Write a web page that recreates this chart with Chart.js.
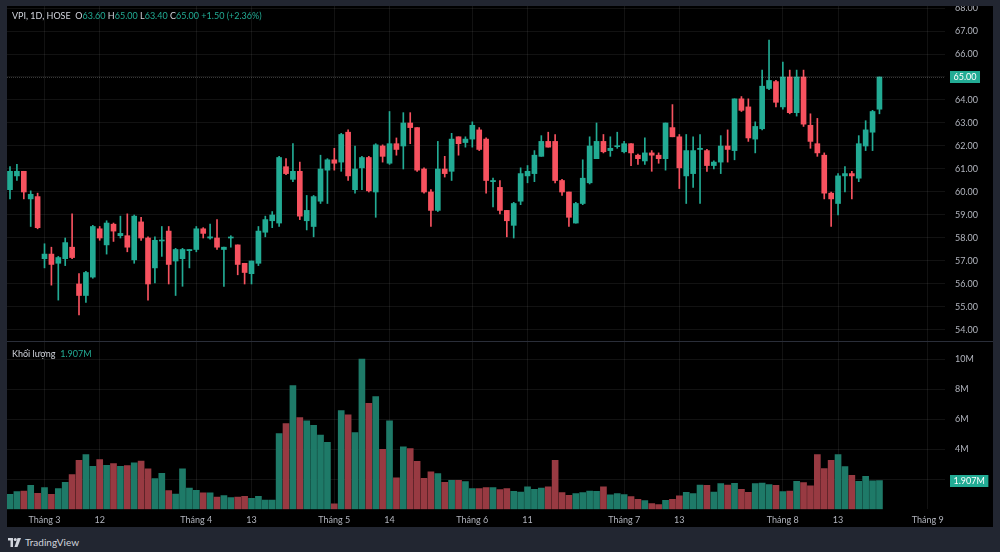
<!DOCTYPE html>
<html><head><meta charset="utf-8">
<script src="https://cdn.jsdelivr.net/npm/chart.js@4.4.1/dist/chart.umd.min.js"></script>
<style>
html,body{margin:0;padding:0;background:#222631;width:1000px;height:552px;overflow:hidden;font-family:Lato,'Open Sans',sans-serif;}
#panel{position:absolute;left:7px;top:6px;width:986px;height:521px;background:#000;}
#priceWrap{position:absolute;left:7px;top:6px;width:986px;height:336px;}
#volWrap{position:absolute;left:7px;top:342px;width:986px;height:185px;}
#sep{position:absolute;left:7px;top:341px;width:986px;height:1px;background:#2a2e39;}
.legend{position:absolute;font-size:9px;line-height:11px;color:#d1d4dc;white-space:pre;}
.g{color:#22ab94}
#footer{position:absolute;left:8px;top:535px;height:14px;display:flex;align-items:center;color:#d1d4dc;font-size:10px;}
#footer svg{margin-right:4px}
</style></head>
<body>
<div id="panel"></div>
<div id="priceWrap"><canvas id="price"></canvas></div>
<div id="volWrap"><canvas id="vol"></canvas></div>
<div id="sep"></div>
<div class="legend" style="left:12px;top:10px">VPI, 1D, HOSE  O<span class="g">63.60</span> H<span class="g">65.00</span> L<span class="g">63.40</span> C<span class="g">65.00</span> <span class="g">+1.50 (+2.36%)</span></div>
<div class="legend" style="left:12px;top:348px">Khối lượng  <span class="g">1.907M</span></div>
<div id="footer"><svg width="13" height="9" viewBox="0 0 26 18"><path d="M0 0h10v18H5V5H0z" fill="#d1d4dc"/><circle cx="14.5" cy="3" r="3" fill="#d1d4dc"/><path d="M19 0h7l-7 18h-6z" fill="#d1d4dc"/></svg><span>TradingView</span></div>
<script>
const opens  = [60.1,60.7,60.9,59.7,59.8,57.1,57.3,56.9,57.1,57.6,56.0,55.5,56.3,58.4,57.7,58.6,58.1,58.1,57.05,58.7,58.0,56.7,57.87,58.3,57.0,57.1,57.45,57.5,58.4,58.0,58.0,57.5,58.0,57.7,56.9,56.45,56.9,58.25,58.75,58.65,61.1,60.55,60.9,58.75,58.5,59.6,60.95,61.4,61.3,62.6,60.1,61.05,61.5,60.0,62.0,61.25,62.1,62.0,63.0,62.8,61.0,60.0,59.2,61.0,60.9,62.4,62.15,62.3,62.7,62.3,60.45,60.2,59.2,58.55,59.6,60.7,60.8,61.55,62.2,62.2,60.5,60.0,58.65,59.5,60.4,61.45,62.2,61.8,61.97,61.75,62.1,61.6,61.35,61.7,61.6,61.45,62.8,62.4,60.7,60.8,61.85,61.8,61.15,61.3,62.0,61.8,64.05,63.7,62.3,62.75,64.5,64.8,63.7,65.0,63.45,65.0,62.9,62.1,61.6,59.95,59.5,60.7,60.8,60.6,62.0,62.6,63.6];
const highs  = [61.1,61.2,60.9,60.05,59.95,57.75,57.6,57.2,58.0,59.05,56.45,56.55,58.55,58.5,58.75,58.65,58.95,59.05,59.0,58.9,58.05,58.05,58.5,58.5,57.55,57.55,57.5,58.5,58.45,58.6,58.8,57.6,58.1,57.7,56.9,57.0,58.5,58.95,59.15,61.55,61.45,62.1,61.3,59.85,59.85,61.6,61.45,61.9,62.55,62.7,62.0,61.55,61.55,62.1,62.05,63.5,62.35,63.45,63.45,62.8,61.05,60.1,62.2,61.55,62.55,62.4,62.4,63.05,62.8,62.35,60.6,60.5,59.2,59.55,61.05,61.15,61.8,62.45,62.6,62.5,60.55,60.0,59.55,61.4,62.4,63.0,62.5,62.4,62.6,62.2,62.1,61.65,62.35,61.8,61.7,63.0,63.8,62.5,62.5,62.4,62.5,61.85,61.35,62.45,62.7,64.05,64.15,64.05,63.05,65.3,66.6,64.85,65.65,65.3,65.3,65.3,63.4,63.2,61.7,60.0,60.8,61.1,60.9,62.45,63.1,63.55,65.0];
const lows   = [59.7,60.5,59.7,58.5,58.4,56.7,55.95,55.3,56.8,57.1,54.65,55.2,56.25,57.9,57.3,57.85,58.0,57.4,56.9,57.9,55.3,56.05,57.2,56.0,55.5,55.9,56.7,57.4,58.0,57.95,57.5,55.9,57.6,56.4,56.0,56.0,56.8,58.05,58.45,58.5,60.75,60.45,58.8,58.35,58.05,59.5,59.5,60.95,60.9,60.5,59.95,60.1,60.0,58.9,61.3,61.2,61.6,61.0,62.1,60.9,59.95,58.5,59.15,60.65,60.5,61.6,61.95,61.95,61.8,59.95,59.35,59.05,58.05,58.0,59.45,60.4,60.45,61.55,61.95,60.4,59.85,58.5,58.65,59.45,60.35,61.45,61.7,61.55,61.9,61.7,61.15,61.2,61.2,60.9,61.25,60.95,62.4,60.15,59.5,60.2,59.5,60.9,61.0,60.8,61.3,61.4,63.5,62.2,61.7,62.7,64.45,63.7,63.6,63.4,63.3,62.85,61.9,61.55,59.7,58.5,59.0,60.0,59.7,60.45,61.8,61.8,63.4];
const closes = [60.9,60.9,60.0,59.9,58.45,57.3,56.85,57.15,57.8,57.15,55.5,56.5,58.5,58.0,58.65,58.3,58.2,57.6,58.95,58.0,56.0,57.9,57.91,56.85,57.5,57.5,57.5,58.4,58.2,58.05,57.6,57.6,58.03,56.85,56.5,57.0,58.3,58.8,59.0,61.5,60.8,60.9,58.95,59.2,59.8,61.0,61.4,61.25,62.5,60.7,61.0,61.5,60.05,62.05,61.55,62.1,61.85,63.0,62.8,60.95,60.0,59.2,61.0,60.8,62.3,62.1,62.3,62.9,61.85,60.5,60.5,59.2,58.75,59.5,60.8,60.9,61.6,62.2,61.95,60.5,60.0,58.9,59.5,60.6,62.0,62.2,61.75,61.9,62.0,62.1,61.7,61.45,61.7,61.6,61.45,63.0,62.4,61.05,61.8,61.8,61.9,61.15,61.3,62.0,61.85,64.05,63.55,62.35,62.85,64.6,64.85,63.9,65.0,63.45,65.0,62.95,62.2,61.7,59.95,59.7,60.7,60.8,60.7,62.1,62.7,63.5,65.0];
const volumes= [1.0,1.18,1.22,1.6,1.07,1.44,1.0,1.38,1.8,2.31,3.27,3.64,2.86,3.31,2.93,3.04,2.86,2.91,3.09,3.22,2.69,2.04,2.4,1.24,1.02,2.69,1.42,1.27,1.09,1.09,0.82,0.91,0.78,0.82,0.87,0.73,0.87,0.62,0.62,5.04,5.71,8.24,6.11,5.89,5.6,4.95,4.46,0.36,6.58,6.29,5.11,10.02,7.06,7.51,4.0,5.89,2.09,4.16,4.04,3.2,2.07,2.49,2.38,1.8,1.93,1.93,1.84,1.38,1.38,1.44,1.44,1.31,1.38,1.2,1.15,1.49,1.33,1.42,1.49,3.27,1.11,0.93,1.04,1.11,1.22,1.2,1.49,0.96,1.04,0.98,0.84,0.67,0.58,0.38,0.31,0.6,0.67,0.89,1.13,1.04,1.62,1.6,1.15,1.71,1.62,1.73,1.33,1.13,1.71,1.75,1.64,1.6,1.18,1.22,1.87,1.78,1.56,3.64,2.71,3.27,3.64,2.84,2.27,1.87,2.2,1.89,1.907];
const xTickIdx  = [5,13,27,35,47,55,67,75,89,97,112,120,133];
const xTickText = ['Tháng 3','12','Tháng 4','13','Tháng 5','14','Tháng 6','11','Tháng 7','13','Tháng 8','13','Tháng 9'];
const priceTicks = [54,55,56,57,58,59,60,61,62,63,64,65,66,67,68];
const volTicks = [2,4,6,8,10];

const UP='#22ab94', DOWN='#f7525f', VUP='#1e7a68', VDOWN='#983a42';
const GRID='rgba(255,255,255,0.07)', TXT='#b2b5be';
const FONT={family:"Lato, 'Open Sans', sans-serif", size:9};
const X_MIN=-0.435, X_MAX=135.5;
const isUp = opens.map((o,i)=>closes[i]>=o);
const lastClose = closes[closes.length-1];
const lastVol = volumes[volumes.length-1];

function lastLabel(value, text, dotted){
  return {
    id:'lastLabel',
    afterDraw(chart){
      const {ctx, chartArea, scales} = chart;
      const y = Math.round(scales.y.getPixelForValue(value));
      ctx.save();
      if (dotted){
        ctx.setLineDash([1,1]);
        ctx.strokeStyle='rgba(200,200,200,0.28)';
        ctx.lineWidth=1;
        ctx.beginPath(); ctx.moveTo(chartArea.left, y+0.5); ctx.lineTo(chartArea.right, y+0.5); ctx.stroke();
        ctx.setLineDash([]);
      }
      ctx.font = "9px Lato, 'Open Sans', sans-serif";
      const w = ctx.measureText(text).width + 7;
      ctx.fillStyle = UP;
      ctx.fillRect(chartArea.right+5, y-6, w, 12);
      ctx.fillStyle = '#ffffff';
      ctx.textBaseline='middle'; ctx.textAlign='left';
      ctx.fillText(text, chartArea.right+8.5, y+0.5);
      ctx.restore();
    }
  };
}
function noPad(s){ s.paddingTop=0; s.paddingBottom=0; s.paddingLeft=0; s.paddingRight=0; }

const xBase = {
  type:'linear', min:X_MIN, max:X_MAX, offset:false,
  grid:{color:GRID, drawTicks:false, offset:false},
  border:{display:false},
  afterBuildTicks:s=>{ s.ticks = xTickIdx.map(v=>({value:v})); }
};

new Chart(document.getElementById('price'), {
  type:'bar',
  data:{datasets:[
    {data: opens.map((o,i)=>({x:i, y:[lows[i], highs[i]]})), backgroundColor: isUp.map(u=>u?UP:DOWN), barThickness:1, grouped:false, order:2},
    {data: opens.map((o,i)=>({x:i, y:[o, closes[i]]})), backgroundColor: isUp.map(u=>u?UP:DOWN), barThickness:5, minBarLength:1, grouped:false, order:1}
  ]},
  options:{
    responsive:true, maintainAspectRatio:false, animation:false,
    layout:{padding:0},
    plugins:{legend:{display:false}, tooltip:{enabled:false}},
    scales:{
      x:Object.assign({}, xBase, {ticks:{display:false}, afterFit:s=>{s.height=0; noPad(s);}}),
      y:{type:'linear', position:'right', min:53.478, max:68.087,
         grid:{color:GRID, drawTicks:false}, border:{display:false},
         ticks:{color:TXT, font:FONT, padding:10, callback:v=>Number(v).toFixed(2)},
         afterBuildTicks:s=>{ s.ticks = priceTicks.map(v=>({value:v})); },
         afterFit:s=>{ s.width=48; noPad(s); }}
    }
  },
  plugins:[lastLabel(lastClose, lastClose.toFixed(2), true)]
});

new Chart(document.getElementById('vol'), {
  type:'bar',
  data:{datasets:[
    {data: volumes.map((v,i)=>({x:i, y:v})), backgroundColor: isUp.map(u=>u?VUP:VDOWN), barThickness:6, grouped:false}
  ]},
  options:{
    responsive:true, maintainAspectRatio:false, animation:false,
    layout:{padding:0},
    plugins:{legend:{display:false}, tooltip:{enabled:false}},
    scales:{
      x:Object.assign({}, xBase, {ticks:{color:TXT, font:FONT, padding:5, maxRotation:0, autoSkip:false,
          callback:v=>{ const k=xTickIdx.indexOf(v); return k>=0?xTickText[k]:''; }},
          afterFit:s=>{ s.height=17.7; noPad(s); }}),
      y:{type:'linear', position:'right', min:0, max:11.153,
         grid:{color:GRID, drawTicks:false}, border:{display:false},
         ticks:{color:TXT, font:FONT, padding:10, callback:v=> v===2?'':v+'M'},
         afterBuildTicks:s=>{ s.ticks = volTicks.map(v=>({value:v})); },
         afterFit:s=>{ s.width=48; noPad(s); }}
    }
  },
  plugins:[lastLabel(lastVol, lastVol.toFixed(3)+'M', false)]
});
</script>
</body></html>
